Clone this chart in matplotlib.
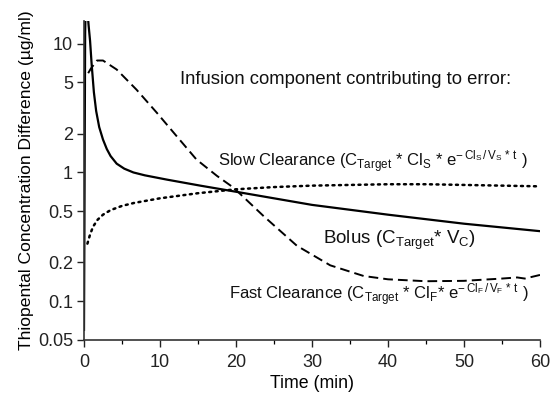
import matplotlib
matplotlib.use("Agg")
import matplotlib.pyplot as plt
from matplotlib.ticker import FixedLocator, NullFormatter

plt.rcParams["font.family"] = "Liberation Sans"
plt.rcParams["mathtext.fontset"] = "custom"
plt.rcParams["mathtext.rm"] = "Liberation Sans"
plt.rcParams["mathtext.it"] = "Liberation Sans"

# ---- data -------------------------------------------------------------------
bolus_t = [0.0, 0.05, 0.1, 0.15, 0.25, 0.45, 0.6, 0.8, 1.0, 1.3, 1.6, 2.0, 2.5,
           3.0, 3.5, 4.3, 5.3, 6.5, 8.0, 10.9, 15.3, 20.5, 30, 40, 50, 60]
bolus_v = [0.06, 0.3, 2.0, 12, 25, 18, 14, 10.5, 7.0, 4.2, 3.0, 2.25, 1.8,
           1.52, 1.34, 1.17, 1.07, 1.0, 0.95, 0.88, 0.79, 0.70, 0.56, 0.47,
           0.40, 0.35]

fast_t = [0.55, 0.9, 1.7, 2.5, 4.3, 6.9, 9.6, 12.2, 14.8, 17.5, 19.7, 23.6,
          28, 32.4, 36.8, 40, 45, 50, 55, 57, 58, 60]
fast_v = [5.9, 6.4, 7.4, 7.4, 6.3, 4.4, 2.9, 1.91, 1.26, 0.94, 0.76, 0.46,
          0.27, 0.19, 0.157, 0.148, 0.143, 0.144, 0.150, 0.153, 0.150, 0.160]

slow_t = [0.45, 0.8, 1.2, 1.8, 2.5, 3.5, 5, 6.6, 10, 15, 20, 25, 30, 35, 40,
          45, 50, 55, 60]
slow_v = [0.28, 0.33, 0.38, 0.43, 0.47, 0.51, 0.55, 0.58, 0.63, 0.69, 0.74,
          0.77, 0.79, 0.80, 0.81, 0.81, 0.80, 0.79, 0.78]

y_ticks = [0.05, 0.1, 0.2, 0.5, 1, 2, 5, 10]
y_labels = ["0.05", "0.1", "0.2", "0.5", "1", "2", "5", "10"]
x_ticks = [0, 10, 20, 30, 40, 50, 60]

# ---- figure -----------------------------------------------------------------
fig = plt.figure(figsize=(5.5, 4.0), dpi=100)
fig.patch.set_facecolor("white")
ax = fig.add_axes([84 / 550, 1 - 340 / 400, (540 - 84) / 550, (340 - 21) / 400])

ax.plot(bolus_t, bolus_v, color="black", lw=1.6, solid_joinstyle="round")
ax.plot(fast_t, fast_v, color="black", lw=1.4, linestyle=(0, (5, 2.6)))
ax.plot(slow_t, slow_v, color="black", lw=1.8, linestyle=(0, (0.8, 1.8)),
        dash_capstyle="round")

ax.set_yscale("log")
ax.set_ylim(0.05, 15)
ax.set_xlim(0, 60)

ax.yaxis.set_major_locator(FixedLocator(y_ticks))
ax.set_yticklabels(y_labels)
ax.yaxis.set_minor_locator(FixedLocator([]))
ax.yaxis.set_minor_formatter(NullFormatter())
ax.xaxis.set_major_locator(FixedLocator(x_ticks))
ax.xaxis.set_minor_locator(FixedLocator([5, 15, 25, 35, 45, 55]))

for s in ["top", "right"]:
    ax.spines[s].set_visible(False)
for s in ["left", "bottom"]:
    ax.spines[s].set_linewidth(1.2)
    ax.spines[s].set_color("#333333")

ax.tick_params(axis="both", which="major", direction="out", length=5,
               width=1.0, labelsize=13, colors="#222222")
ax.tick_params(axis="x", which="minor", direction="out", length=3, width=0.9)
ax.tick_params(axis="x", which="major", pad=5)
ax.tick_params(axis="y", which="major", pad=3)

ax.set_xlabel("Time (min)", fontsize=12.8, labelpad=3)
ax.set_ylabel("Thiopental Concentration Difference (\u00b5g/ml)", fontsize=12.6,
              labelpad=3)

# ---- annotations (pixel positions in figure fractions) ----------------------
def ftext(x_px, y_px, s, size=13):
    fig.text(x_px / 550, 1 - y_px / 400, s, ha="left", va="center",
             fontsize=size, color="#111111")

ftext(180, 80, "Infusion component contributing to error:", 13.3)
ftext(218, 162, r"Slow Clearance (C$_{\mathrm{Target}}$ * Cl$_{\mathrm{S}}$ * "
      r"e$^{-\,\mathrm{Cl_S\,/\,V_S\,*\,t}}$ )", 12.0)
ftext(323, 240, r"Bolus (C$_{\mathrm{Target}}$* V$_{\mathrm{C}}$)", 13.5)
ftext(229, 295, r"Fast Clearance (C$_{\mathrm{Target}}$ * Cl$_{\mathrm{F}}$* "
      r"e$^{-\,\mathrm{Cl_F\,/\,V_F\,*\,t}}$ )", 12.0)

fig.savefig("out.png", dpi=100, facecolor="white")
